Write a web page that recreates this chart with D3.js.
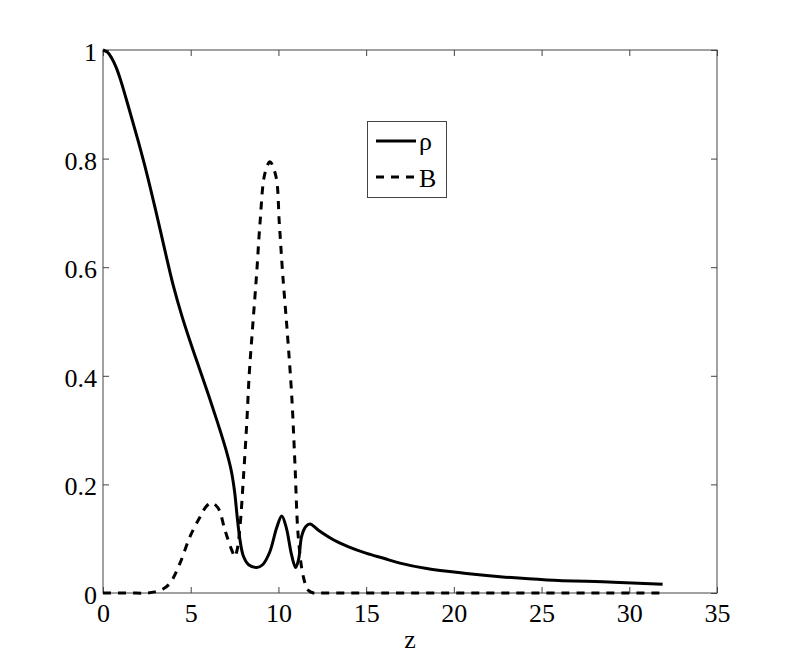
<!DOCTYPE html>
<html>
<head>
<meta charset="utf-8">
<script src="https://cdn.jsdelivr.net/npm/d3@7"></script>
<style>
html,body{margin:0;padding:0;background:#fff;}
svg{display:block;}
text{font-family:"Liberation Serif","Times New Roman",serif;fill:#000;}
</style>
</head>
<body>
<svg id="chart" width="792" height="667"></svg>
<script>
// Data
const rhoZ = [0, 0.25, 0.5, 0.75, 1.0, 1.5, 2.0, 2.5, 3.0, 3.5, 4.0, 4.5, 5.0, 5.5, 6.0, 6.5, 7.0, 7.3, 7.5, 7.65, 7.8, 8.0, 8.3, 8.76, 9.1, 9.5, 9.9, 10.19, 10.45, 10.75, 10.98, 11.15, 11.32, 11.55, 11.8, 12.3, 13.13, 14.0, 15.03, 16.0, 16.93, 18.45, 20.73, 22.63, 25.3, 29.1, 31.9];
const rhoV = [1.0, 0.996, 0.985, 0.968, 0.945, 0.89, 0.833, 0.772, 0.705, 0.635, 0.567, 0.51, 0.46, 0.413, 0.366, 0.317, 0.265, 0.227, 0.187, 0.14, 0.1, 0.068, 0.052, 0.047, 0.052, 0.075, 0.12, 0.142, 0.12, 0.07, 0.047, 0.062, 0.104, 0.122, 0.127, 0.115, 0.098, 0.085, 0.073, 0.064, 0.055, 0.045, 0.036, 0.030, 0.024, 0.020, 0.016];
const bZ = [0, 1.5, 2.5, 2.96, 3.4, 3.82, 4.39, 4.96, 5.53, 5.9, 6.2, 6.57, 6.95, 7.34, 7.52, 7.65, 7.81, 8.0, 8.19, 8.34, 8.53, 8.76, 8.95, 9.23, 9.52, 9.86, 10.05, 10.24, 10.51, 10.76, 10.94, 11.13, 11.42, 11.7, 12.0, 12.5, 31.4, 31.9];
const bV = [0, 0, 0, 0.002, 0.007, 0.018, 0.055, 0.104, 0.14, 0.16, 0.166, 0.156, 0.116, 0.079, 0.067, 0.08, 0.122, 0.21, 0.31, 0.405, 0.49, 0.589, 0.681, 0.773, 0.794, 0.767, 0.681, 0.589, 0.478, 0.362, 0.239, 0.104, 0.03, 0.005, 0, 0, 0, 0];
const xTicks = [0, 5, 10, 15, 20, 25, 30, 35];
const yTicks = [0, 0.2, 0.4, 0.6, 0.8, 1];
const xLabel = "z";
const legendLabels = ["ρ", "B"];

const svg = d3.select("#chart");
const L = 103, R = 717, T = 50, B = 593;
const x = d3.scaleLinear().domain([0, 35]).range([L, R]);
const y = d3.scaleLinear().domain([0, 1]).range([B, T]);

const axisColor = "#444";
const fs = 26;

// frame
svg.append("rect").attr("x", L).attr("y", T).attr("width", R - L).attr("height", B - T)
  .attr("fill", "none").attr("stroke", axisColor).attr("stroke-width", 1);

function styleAxis(g){
  g.select(".domain").remove();
  g.selectAll(".tick line").attr("stroke", axisColor).attr("stroke-width", 1);
  g.selectAll(".tick text").attr("font-size", fs).attr("font-family", '"Liberation Serif", serif').attr("fill", "#000");
}

// bottom axis (ticks inward)
const gx = svg.append("g").attr("transform", `translate(0,${B})`)
  .call(d3.axisBottom(x).tickValues(xTicks).tickFormat(d3.format("d")).tickSizeInner(-6).tickSizeOuter(0));
styleAxis(gx);
gx.selectAll(".tick text").attr("dy", "0.71em").attr("y", 11);
// top axis ticks
const gxt = svg.append("g").attr("transform", `translate(0,${T})`)
  .call(d3.axisTop(x).tickValues(xTicks).tickFormat("").tickSizeInner(-6).tickSizeOuter(0));
styleAxis(gxt);
// left axis
const gy = svg.append("g").attr("transform", `translate(${L},0)`)
  .call(d3.axisLeft(y).tickValues(yTicks).tickFormat(d => d === 0 || d === 1 ? d3.format("d")(d) : d3.format(".1f")(d)).tickSizeInner(-6).tickSizeOuter(0));
styleAxis(gy);
gy.selectAll(".tick text").attr("x", -6).attr("dy", "0.4em");
// right axis ticks
const gyr = svg.append("g").attr("transform", `translate(${R},0)`)
  .call(d3.axisRight(y).tickValues(yTicks).tickFormat("").tickSizeInner(-6).tickSizeOuter(0));
styleAxis(gyr);

// x label
svg.append("text").attr("x", (L + R) / 2).attr("y", 648).attr("text-anchor", "middle")
  .attr("font-size", fs).text(xLabel);

// lines
const line = d3.line().x(d => x(d[0])).y(d => y(d[1])).curve(d3.curveCatmullRom.alpha(0.5));
const rhoData = rhoZ.map((z, i) => [z, rhoV[i]]);
const bData = bZ.map((z, i) => [z, bV[i]]);

svg.append("path").datum(bData).attr("d", line).attr("fill", "none")
  .attr("stroke", "#000").attr("stroke-width", 3).attr("stroke-dasharray", "8,7");
svg.append("path").datum(rhoData).attr("d", line).attr("fill", "none")
  .attr("stroke", "#000").attr("stroke-width", 3).attr("stroke-linejoin", "round");

// legend
const lg = svg.append("g");
lg.append("rect").attr("x", 367.5).attr("y", 121.5).attr("width", 79).attr("height", 76)
  .attr("fill", "#fff").attr("stroke", axisColor).attr("stroke-width", 1);
lg.append("line").attr("x1", 376).attr("x2", 416).attr("y1", 141).attr("y2", 141)
  .attr("stroke", "#000").attr("stroke-width", 3);
lg.append("line").attr("x1", 376).attr("x2", 416).attr("y1", 177).attr("y2", 177)
  .attr("stroke", "#000").attr("stroke-width", 3).attr("stroke-dasharray", "8,7");
lg.append("text").attr("x", 419).attr("y", 150).attr("font-size", fs).text(legendLabels[0]);
lg.append("text").attr("x", 419).attr("y", 187).attr("font-size", fs).text(legendLabels[1]);
</script>
</body>
</html>
